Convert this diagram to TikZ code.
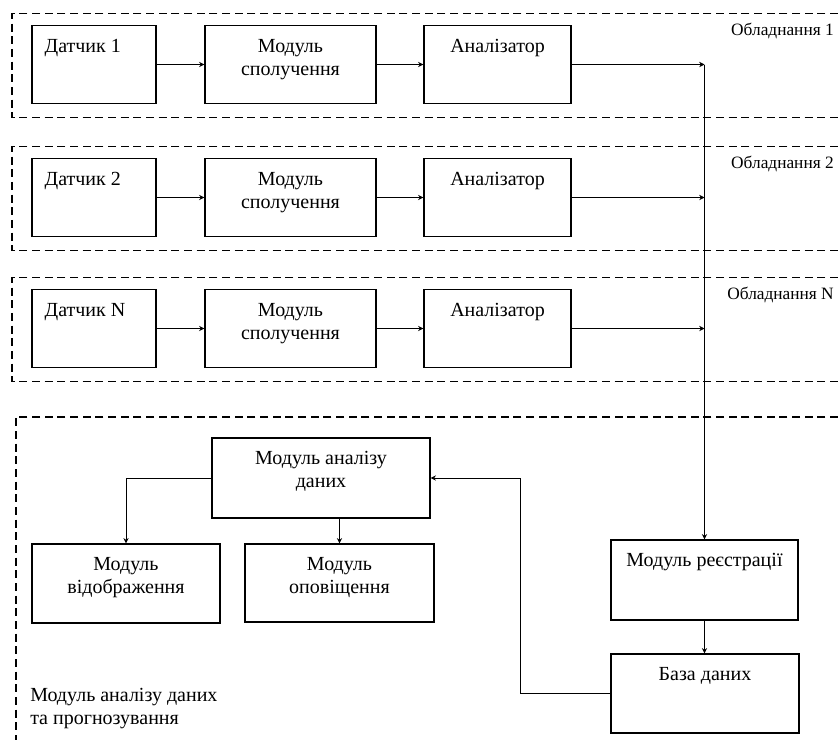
\documentclass[tikz,border=0pt]{standalone}
\usepackage{fontspec}
\setmainfont{Liberation Serif}
\usetikzlibrary{calc, arrows.meta}
\newcommand{\pxu}{0.75pt}
\tikzset{
  blok/.style 2 args={draw, line width=0.9pt, minimum width=#1*\pxu, minimum height=#2*\pxu, inner sep=0pt},
  napys/.style={inner sep=0pt, align=center, font=\fontsize{15}{17.25}\selectfont},
  mitka/.style={inner sep=0pt, font=\fontsize{13}{15}\selectfont},
  ramka/.style={dash pattern=on 6pt off 3.5pt, line width=0.8pt},
  strilka/.style={-{Stealth[length=4pt, width=4pt]}, line width=0.75pt}
}
\begin{document}
\begin{tikzpicture}[x=0.75pt, y=-0.75pt]
  \useasboundingbox (0,0) rectangle (838,740);
  % modul analizu danyh ta prognozuvannya
  \draw[ramka] (838,417) -- (16,417) -- (16,740);
  \node[blok={218}{80}] (an) at (321,478) {};
  \node[napys, anchor=north] (tan) at ($(an.north)+(0,14)$) {Модуль аналізу\\даних};
  \node[blok={188}{79}] (vid) at (126,583.5) {};
  \node[napys, anchor=north] (tvid) at ($(vid.north)+(0,14)$) {Модуль\\відображення};
  \node[blok={189}{78}] (op) at (339.5,583) {};
  \node[napys, anchor=north] (top) at ($(op.north)+(0,14)$) {Модуль\\оповіщення};
  \node[blok={187}{80}] (reg) at (704.5,580) {};
  \node[napys, anchor=north] (treg) at ($(reg.north)+(0,14)$) {Модуль реєстрації};
  \node[blok={188}{79}] (db) at (705,693.5) {};
  \node[napys, anchor=north] (tdb) at ($(db.north)+(0,14)$) {База даних};
  \node[napys, anchor=north west, align=left] (tpr) at (30,688) {Модуль аналізу даних\\та прогнозування};
  % obladnannya 1..N
  \foreach \i/\y/\n in {1/64.5/1, 2/197.5/2, 3/328.5/N} {
    \draw[ramka] (838,\y-51) -- (12,\y-51) -- (12,\y+53) -- (838,\y+53);
    \node[blok={124}{78}] (d\i) at (94,\y) {};
    \node[napys, anchor=north west] (td\i) at ($(d\i.north west)+(13,14)$) {Датчик \n};
    \node[blok={171}{78}] (m\i) at (290.5,\y) {};
    \node[napys, anchor=north] (tm\i) at ($(m\i.north)+(0,14)$) {Модуль\\сполучення};
    \node[blok={147}{78}] (a\i) at (497.5,\y) {};
    \node[napys, anchor=north] (ta\i) at ($(a\i.north)+(0,14)$) {Аналізатор};
    \node[mitka, anchor=east] (o\i) at (834,\y-34) {Обладнання \n};
    \draw[strilka] (d\i) -- (m\i);
    \draw[strilka] (m\i) -- (a\i);
    \draw[strilka] (a\i.east) -- (a\i.east -| reg.north);
  }
  \draw[strilka] (a1.east -| reg.north) -- (reg.north);
  \draw[strilka] (reg.south) -- (reg.south |- db.north);
  \draw[strilka] (db.west) -- ++(-90,0) |- (an.east);
  \draw[strilka] (an.west) -| (vid.north);
  \draw[strilka] (an.south -| op.north) -- (op.north);
\end{tikzpicture}
\end{document}
